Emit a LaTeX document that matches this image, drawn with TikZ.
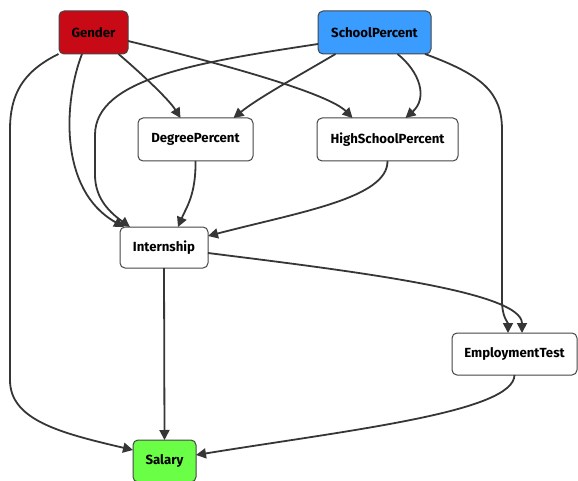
\documentclass[tikz,border=0pt]{standalone}
\usepackage{fontspec}
\setmainfont{Fira Sans}
\usetikzlibrary{arrows.meta}
\definecolor{edgec}{HTML}{363636}
\definecolor{borderc}{HTML}{454545}
\definecolor{redc}{HTML}{C80A16}
\definecolor{bluec}{HTML}{3A9CFF}
\definecolor{greenc}{HTML}{6AFF46}
\tikzset{
  box/.style={draw=borderc, line width=1pt, rounded corners=5pt, fill=white, inner sep=0pt, outer sep=0pt, minimum height=43pt, font=\fontsize{13.2}{15}\selectfont\bfseries},
  edge/.style={draw=edgec, line width=1.8pt, -{Triangle[length=10pt,width=10pt]}}
}
\begin{document}
\begin{tikzpicture}[x=1pt,y=-1pt]
\useasboundingbox (0,0) rectangle (578,481);
\node[box, fill=redc, minimum width=69pt] (g) at (93.5,32.5) {\raisebox{-1.5pt}{Gender}};
\node[box, fill=bluec, minimum width=113pt] (sp) at (374.5,32.5) {\raisebox{-1.5pt}{SchoolPercent}};
\node[box, minimum width=115pt] (dp) at (195.5,139.5) {\raisebox{-1.5pt}{DegreePercent}};
\node[box, minimum width=141pt] (hsp) at (387.5,139.5) {\raisebox{-1.5pt}{HighSchoolPercent}};
\node[box, minimum width=88pt, minimum height=41pt] (in) at (164,247.5) {\raisebox{-1.5pt}{Internship}};
\node[box, minimum width=125pt, minimum height=42pt] (et) at (514.5,354) {\raisebox{-1.5pt}{EmploymentTest}};
\node[box, fill=greenc, minimum width=63pt, minimum height=42pt] (sal) at (164.5,461) {\raisebox{-1.5pt}{Salary}};

% Gender edges
\draw[edge] ([xshift=25]g.south) .. controls (135,68) and (168,98) .. ([xshift=-15]dp.north);
\draw[edge] ([yshift=-8.5]g.east) .. controls (240,68) and (330,95) .. ([xshift=-35]hsp.north);
\draw[edge] ([xshift=-11.5]g.south) .. controls (64,100) and (58,190) .. ([xshift=-40]in.north);
\draw[edge] ([xshift=-35]g.south) .. controls (22,72) and (10,95) .. (10,130) -- (10,380) .. controls (10,420) and (60,433) .. ([yshift=11]sal.west);
% SchoolPercent edges
\draw[edge] ([xshift=-39]sp.south) .. controls (300,75) and (258,98) .. ([xshift=38]dp.north);
\draw[edge] ([xshift=23]sp.south) .. controls (420,72) and (428,98) .. ([xshift=18]hsp.north);
\draw[edge] ([yshift=-11.5]sp.west) .. controls (200,62) and (95,78) .. (95,135) -- (95,175) .. controls (95,200) and (112,214) .. ([xshift=-34]in.north);
\draw[edge] ([xshift=50.5]sp.south) .. controls (482,75) and (502,92) .. (502,130) -- (502,300) .. controls (502,318) and (508,322) .. ([xshift=-6.5]et.north);
% middle edges
\draw[edge] (dp.south) .. controls (196,195) and (186,208) .. ([xshift=14]in.north);
\draw[edge] (hsp.south) .. controls (388,198) and (300,212) .. ([yshift=11.5]in.east);
\draw[edge] (in.south) -- (sal.north);
\draw[edge] ([yshift=-5.5]in.east) .. controls (360,272) and (522,292) .. ([xshift=7.5]et.north);
\draw[edge] (et.south) .. controls (514,412) and (350,430) .. ([yshift=6]sal.east);
\end{tikzpicture}
\end{document}
